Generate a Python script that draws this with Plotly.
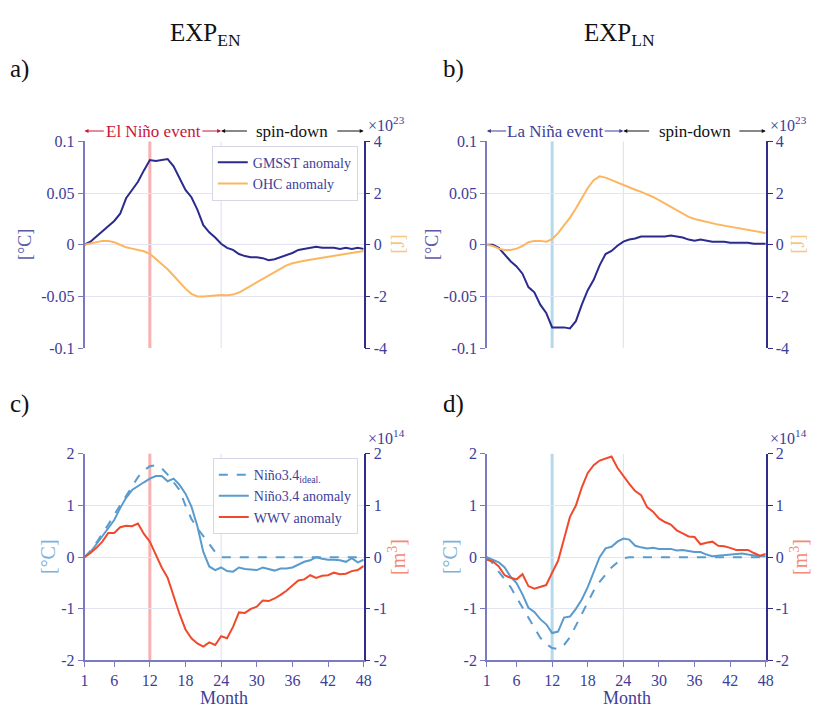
import plotly.graph_objects as go

months = list(range(1, 49))

# Panel a (EXP_EN): GMSST [°C] and OHC [x1e23 J]
gmsst_en = [0.0, 0.003, 0.008, 0.013, 0.018, 0.023, 0.030, 0.045, 0.053, 0.061, 0.072, 0.082,
            0.081, 0.082, 0.083, 0.076, 0.064, 0.053, 0.046, 0.034, 0.019, 0.012, 0.007, 0.001,
            -0.003, -0.005, -0.009, -0.011, -0.012, -0.012, -0.013, -0.015, -0.014, -0.012, -0.010, -0.008,
            -0.005, -0.004, -0.003, -0.002, -0.003, -0.003, -0.003, -0.004, -0.003, -0.004, -0.003, -0.004]
ohc_en = [0.0, 0.05, 0.10, 0.15, 0.15, 0.10, 0.0, -0.10, -0.15, -0.20, -0.25, -0.35,
          -0.55, -0.75, -0.95, -1.20, -1.45, -1.70, -1.90, -2.00, -2.00, -1.98, -1.96, -1.95,
          -1.96, -1.93, -1.85, -1.72, -1.60, -1.47, -1.35, -1.20, -1.07, -0.93, -0.80, -0.72,
          -0.66, -0.62, -0.58, -0.54, -0.50, -0.46, -0.42, -0.38, -0.35, -0.32, -0.28, -0.24]

# Panel b (EXP_LN)
gmsst_ln = [0.0, 0.0, -0.003, -0.010, -0.016, -0.021, -0.028, -0.041, -0.046, -0.058, -0.066, -0.080,
            -0.080, -0.080, -0.081, -0.074, -0.058, -0.044, -0.034, -0.020, -0.009, -0.006, -0.001, 0.003,
            0.005, 0.006, 0.008, 0.008, 0.008, 0.008, 0.008, 0.009, 0.008, 0.007, 0.005, 0.004,
            0.005, 0.004, 0.003, 0.003, 0.003, 0.002, 0.002, 0.002, 0.002, 0.001, 0.001, 0.001]
ohc_ln = [0.0, -0.05, -0.15, -0.20, -0.20, -0.15, -0.05, 0.10, 0.15, 0.15, 0.12, 0.22,
          0.45, 0.75, 1.05, 1.40, 1.80, 2.20, 2.50, 2.65, 2.60, 2.50, 2.40, 2.30,
          2.22, 2.13, 2.05, 1.96, 1.85, 1.73, 1.60, 1.47, 1.33, 1.20, 1.08, 1.00,
          0.94, 0.88, 0.83, 0.78, 0.74, 0.70, 0.66, 0.61, 0.56, 0.52, 0.49, 0.45]

# Panel c (EXP_EN): Nino3.4 [°C], WWV [x1e14 m3]
nino_ideal_en = [0.0, 0.12, 0.28, 0.45, 0.63, 0.82, 1.00, 1.18, 1.36, 1.55, 1.68, 1.76,
                 1.78, 1.72, 1.60, 1.46, 1.30, 1.00, 0.74, 0.56, 0.40, 0.25, 0.10, 0.0,
                 0, 0, 0, 0, 0, 0, 0, 0, 0, 0, 0, 0,
                 0, 0, 0, 0, 0, 0, 0, 0, 0, 0, 0, 0]
nino_en = [0.0, 0.10, 0.25, 0.40, 0.57, 0.72, 0.95, 1.15, 1.30, 1.38, 1.45, 1.52,
           1.57, 1.57, 1.47, 1.52, 1.40, 1.23, 0.98, 0.60, 0.10, -0.18, -0.25, -0.20,
           -0.27, -0.28, -0.20, -0.23, -0.24, -0.25, -0.20, -0.23, -0.26, -0.22, -0.22, -0.20,
           -0.15, -0.09, -0.06, 0.0, -0.03, -0.05, -0.05, -0.06, -0.09, -0.02, -0.10, -0.05]
wwv_en = [0.0, 0.08, 0.18, 0.30, 0.47, 0.47, 0.58, 0.61, 0.60, 0.65, 0.45, 0.30,
          0.05, -0.20, -0.40, -0.75, -1.10, -1.40, -1.57, -1.67, -1.73, -1.65, -1.70, -1.53,
          -1.57, -1.35, -1.07, -1.08, -1.00, -0.96, -0.84, -0.85, -0.80, -0.73, -0.65, -0.55,
          -0.45, -0.43, -0.35, -0.40, -0.36, -0.35, -0.30, -0.33, -0.32, -0.27, -0.25, -0.17]

# Panel d (EXP_LN)
nino_ideal_ln = [0.0, -0.12, -0.28, -0.42, -0.58, -0.78, -0.98, -1.18, -1.38, -1.56, -1.68, -1.76,
                 -1.78, -1.70, -1.55, -1.32, -1.10, -0.85, -0.65, -0.48, -0.34, -0.20, -0.10, -0.02,
                 0, 0, 0, 0, 0, 0, 0, 0, 0, 0, 0, 0,
                 0, 0, 0, 0, 0, 0, 0, 0, 0, 0, 0, 0]
nino_ln = [0.0, -0.05, -0.10, -0.20, -0.38, -0.50, -0.72, -0.98, -1.06, -1.20, -1.30, -1.47,
           -1.44, -1.17, -1.15, -1.00, -0.82, -0.58, -0.30, 0.0, 0.17, 0.20, 0.30, 0.36,
           0.34, 0.22, 0.19, 0.17, 0.18, 0.16, 0.16, 0.16, 0.13, 0.14, 0.12, 0.10,
           0.10, 0.05, 0.02, 0.03, 0.04, 0.04, 0.05, 0.07, 0.05, 0.03, 0.02, 0.02]
wwv_ln = [-0.05, -0.08, -0.18, -0.35, -0.40, -0.43, -0.33, -0.56, -0.61, -0.58, -0.54, -0.30,
          -0.07, 0.35, 0.78, 1.00, 1.35, 1.63, 1.78, 1.87, 1.91, 1.95, 1.73, 1.57,
          1.42, 1.28, 1.20, 0.97, 0.88, 0.75, 0.68, 0.63, 0.52, 0.46, 0.40, 0.39,
          0.25, 0.28, 0.30, 0.22, 0.21, 0.18, 0.14, 0.14, 0.14, 0.08, 0.03, 0.06]

month_ticks = [1, 6, 12, 18, 24, 30, 36, 42, 48]
temp_ticks_top = [-0.1, -0.05, 0, 0.05, 0.1]
temp_ticks_top_text = ["-0.1", "-0.05", "0", "0.05", "0.1"]
ohc_ticks = [-4, -2, 0, 2, 4]
ohc_ticks_text = ["-4", "-2", "0", "2", "4"]
bot_ticks = [-2, -1, 0, 1, 2]
bot_ticks_text = ["-2", "-1", "0", "1", "2"]

# colours
NAVY = "#2b2b8e"
ORANGE = "#fdb660"
LBLUE = "#5a9bcd"
RED = "#f04a2c"
TXT = "#3d3d9a"
AXL = "#7a7ac0"
AXR = "#2f2f8a"
GRID = "#e4e4f2"
FONT = "Liberation Serif"

W, H = 825, 717
def px(x):
    return x / W
def py(y):
    return 1 - y / H

xa = [px(81.7), px(365)]
xb = [px(490), px(773)]
ytop = [py(348.3), py(136.7)]
ybot = [py(668.3), py(456.7)]

fig = go.Figure()

fig.add_trace(go.Scatter(x=months, y=gmsst_en, mode="lines", line=dict(color=NAVY, width=2),
                         name="GMSST anomaly", xaxis="x", yaxis="y", legend="legend"))
fig.add_trace(go.Scatter(x=months, y=ohc_en, mode="lines", line=dict(color=ORANGE, width=2),
                         name="OHC anomaly", xaxis="x", yaxis="y2", legend="legend"))
fig.add_trace(go.Scatter(x=months, y=gmsst_ln, mode="lines", line=dict(color=NAVY, width=2),
                         showlegend=False, xaxis="x2", yaxis="y3"))
fig.add_trace(go.Scatter(x=months, y=ohc_ln, mode="lines", line=dict(color=ORANGE, width=2),
                         showlegend=False, xaxis="x2", yaxis="y4"))

fig.add_trace(go.Scatter(x=months, y=nino_ideal_en, mode="lines",
                         line=dict(color=LBLUE, width=2, dash="dash"),
                         name="Niño3.4<sub>ideal.</sub>", xaxis="x3", yaxis="y5", legend="legend2"))
fig.add_trace(go.Scatter(x=months, y=nino_en, mode="lines", line=dict(color=LBLUE, width=2),
                         name="Niño3.4 anomaly", xaxis="x3", yaxis="y5", legend="legend2"))
fig.add_trace(go.Scatter(x=months, y=wwv_en, mode="lines", line=dict(color=RED, width=2),
                         name="WWV anomaly", xaxis="x3", yaxis="y6", legend="legend2"))
fig.add_trace(go.Scatter(x=months, y=nino_ideal_ln, mode="lines",
                         line=dict(color=LBLUE, width=2, dash="dash"),
                         showlegend=False, xaxis="x4", yaxis="y7"))
fig.add_trace(go.Scatter(x=months, y=nino_ln, mode="lines", line=dict(color=LBLUE, width=2),
                         showlegend=False, xaxis="x4", yaxis="y7"))
fig.add_trace(go.Scatter(x=months, y=wwv_ln, mode="lines", line=dict(color=RED, width=2),
                         showlegend=False, xaxis="x4", yaxis="y8"))

tickfont = dict(family=FONT, size=16, color=TXT)

def xax(domain, anchor, labels):
    d = dict(domain=domain, anchor=anchor, range=[1, 48], tickmode="array", tickvals=month_ticks,
             showgrid=False, zeroline=False, tickfont=tickfont, ticks="outside" if labels else "",
             ticklen=5, tickcolor=AXL, showticklabels=labels, showline=labels, linecolor=AXL, linewidth=1.5)
    if labels:
        d["ticktext"] = [str(m) for m in month_ticks]
    return d

def yleft(domain, anchor, rng, tv, tt):
    return dict(domain=domain, anchor=anchor, range=rng, tickmode="array", tickvals=tv, ticktext=tt,
                showgrid=True, gridcolor=GRID, gridwidth=1, zeroline=False, tickfont=tickfont,
                ticks="outside", ticklen=5, tickcolor=AXL, showline=True, linecolor=AXL, linewidth=1.5)

def yright(anchor, overlay, rng, tv, tt):
    return dict(anchor=anchor, overlaying=overlay, side="right", range=rng, tickmode="array",
                tickvals=tv, ticktext=tt, showgrid=False, zeroline=False, tickfont=tickfont,
                ticks="outside", ticklen=5, tickcolor=AXR, showline=True, linecolor=AXR, linewidth=1.5)

legfont = dict(family=FONT, size=14, color=TXT)
layout = dict(
    width=W, height=H, margin=dict(l=0, r=0, t=0, b=0),
    paper_bgcolor="white", plot_bgcolor="white",
    font=dict(family=FONT, color=TXT),
    xaxis=xax(xa, "y", False),
    xaxis2=xax(xb, "y3", False),
    xaxis3=xax(xa, "y5", True),
    xaxis4=xax(xb, "y7", True),
    yaxis=yleft(ytop, "x", [-0.1, 0.1], temp_ticks_top, temp_ticks_top_text),
    yaxis2=yright("x", "y", [-4, 4], ohc_ticks, ohc_ticks_text),
    yaxis3=yleft(ytop, "x2", [-0.1, 0.1], temp_ticks_top, temp_ticks_top_text),
    yaxis4=yright("x2", "y3", [-4, 4], ohc_ticks, ohc_ticks_text),
    yaxis5=yleft(ybot, "x3", [-2, 2], bot_ticks, bot_ticks_text),
    yaxis6=yright("x3", "y5", [-2, 2], bot_ticks, bot_ticks_text),
    yaxis7=yleft(ybot, "x4", [-2, 2], bot_ticks, bot_ticks_text),
    yaxis8=yright("x4", "y7", [-2, 2], bot_ticks, bot_ticks_text),
    legend=dict(x=px(359), y=py(141), xanchor="right", yanchor="top", bgcolor="white",
                bordercolor="#d6d6e6", borderwidth=1, font=legfont,
                itemwidth=30, tracegroupgap=0),
    legend2=dict(x=px(359), y=py(461), xanchor="right", yanchor="top", bgcolor="white",
                 bordercolor="#d6d6e6", borderwidth=1, font=legfont,
                 itemwidth=30, tracegroupgap=0),
)
fig.update_layout(**layout)

shapes = []
for xr, yr, col in [("x", "y", "#f8b0b0"), ("x2", "y3", "#b4d8ec"),
                    ("x3", "y5", "#f8b0b0"), ("x4", "y7", "#b4d8ec")]:
    shapes.append(dict(type="line", xref=xr, yref=yr + " domain", x0=24, x1=24, y0=0, y1=1,
                       line=dict(color="#dedef0", width=1), layer="below"))
    shapes.append(dict(type="line", xref=xr, yref=yr + " domain", x0=12, x1=12, y0=0, y1=1,
                       line=dict(color=col, width=3), layer="below"))
fig.update_layout(shapes=shapes)

ann = []
def text(x, y, s, size=16, color=TXT, angle=0, xanchor="center"):
    ann.append(dict(x=px(x), y=py(y), xref="paper", yref="paper", text=s, showarrow=False,
                    font=dict(family=FONT, size=size, color=color), textangle=angle,
                    xanchor=xanchor, yanchor="middle"))

# titles and panel letters
text(204, 27, "EXP<sub>EN</sub>", size=25, color="#111111")
text(625, 27, "EXP<sub>LN</sub>", size=25, color="#111111")
text(16, 62, "a)", size=25, color="#111111")
text(456, 62, "b)", size=25, color="#111111")
text(16, 406, "c)", size=25, color="#111111")
text(456, 406, "d)", size=25, color="#111111")

# exponent labels
text(388, 119, "×10<sup>23</sup>", size=16)
text(796, 119, "×10<sup>23</sup>", size=16)
text(388, 439, "×10<sup>14</sup>", size=16)
text(796, 439, "×10<sup>14</sup>", size=16)

# axis titles
text(22, 242, "[°C]", size=18, color="#5b5ba8", angle=-90)
text(435, 242, "[°C]", size=18, color="#5b5ba8", angle=-90)
text(400, 242, "[J]", size=18, color="#f9c587", angle=-90)
text(806, 242, "[J]", size=18, color="#f9c587", angle=-90)
text(44, 562, "[°C]", size=20, color="#7fb2da", angle=-90)
text(452, 562, "[°C]", size=20, color="#7fb2da", angle=-90)
text(398, 562, "[m<sup>3</sup>]", size=20, color="#f48a78", angle=-90)
text(806, 562, "[m<sup>3</sup>]", size=20, color="#f48a78", angle=-90)
text(223, 707, "Month", size=18)
text(632, 707, "Month", size=18)

# event / spin-down arrows
yrow = py(126)
def arrow(xref, tip, tail, color):
    ann.append(dict(xref=xref, yref="paper", x=tip, y=yrow, ax=tail, ay=0, axref=xref, ayref="pixel",
                    text="", showarrow=True, arrowhead=2, arrowsize=0.8, arrowwidth=1, arrowcolor=color))

for xref, label, col in [("x", "El Niño event", "#c8143c"), ("x2", "La Niña event", "#3d3d9a")]:
    arrow(xref, 1, 4.5, col)
    arrow(xref, 24, 20.6, col)
    arrow(xref, 24, 28.6, "#111111")
    arrow(xref, 48, 43.3, "#111111")
    ann.append(dict(xref=xref, yref="paper", x=12.6, y=yrow, text=label, showarrow=False,
                    font=dict(family=FONT, size=17, color=col), yanchor="middle"))
    ann.append(dict(xref=xref, yref="paper", x=36, y=yrow, text="spin-down", showarrow=False,
                    font=dict(family=FONT, size=17, color="#111111"), yanchor="middle"))

fig.update_layout(annotations=ann)
fig.write_html("out.html")
